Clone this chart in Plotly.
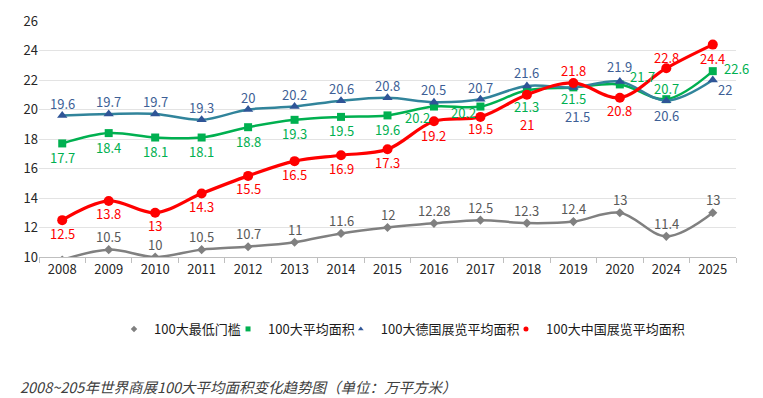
import plotly.graph_objects as go

years = ["2008", "2009", "2010", "2011", "2012", "2013", "2014", "2015",
         "2016", "2017", "2018", "2019", "2020", "2024", "2025"]

min_threshold = [9.8, 10.5, 10, 10.5, 10.7, 11, 11.6, 12, 12.28, 12.5, 12.3, 12.4, 13, 11.4, 13]
avg_area = [17.7, 18.4, 18.1, 18.1, 18.8, 19.3, 19.5, 19.6, 20.2, 20.2, 21.3, 21.5, 21.7, 20.7, 22.6]
germany_avg = [19.6, 19.7, 19.7, 19.3, 20, 20.2, 20.6, 20.8, 20.5, 20.7, 21.6, 21.5, 21.9, 20.6, 22]
china_avg = [12.5, 13.8, 13, 14.3, 15.5, 16.5, 16.9, 17.3, 19.2, 19.5, 21, 21.8, 20.8, 22.8, 24.4]

names = ["100大最低门槛", "100大平均面积", "100大德国展览平均面积", "100大中国展览平均面积"]
caption = "2008~205年世界商展100大平均面积变化趋势图（单位：万平方米）"

FONT = "Noto Sans CJK SC, Microsoft YaHei, sans-serif"

# styles: (values, line color, marker color, label color, symbol, marker size, line width,
#          default label shift (dx, dy), per-point overrides {index: (dx, dy)}, hidden labels)
series = [
    (min_threshold, "#808080", "#808080", "#595959", "diamond", 7, 2.5,
     (0, 13), {}, {0}),
    (avg_area, "#00b050", "#00b050", "#00b050", "square", 8, 2.5,
     (0, -14), {8: (-16, -11), 9: (-17, -6), 10: (0, -16), 11: (0, -11),
                12: (23, 8), 13: (0, 11), 14: (24, 3)}, set()),
    (germany_avg, "#31849b", "#2f5597", "#3d5f96", "triangle-up", 9, 2.5,
     (0, 12), {8: (0, 13), 10: (0, 13), 11: (4, -29), 12: (0, 15),
               13: (0, -15), 14: (12, -9)}, set()),
    (china_avg, "#ff0000", "#ff0000", "#ff0000", "circle", 10, 3.2,
     (0, -13), {8: (0, -14), 9: (0, -12), 10: (0, -30), 11: (0, 12),
                13: (0, 11), 14: (0, -14)}, set()),
]

fig = go.Figure()
annotations = []

for vals, lc, mc, tc, sym, ms, lw, dflt, over, hidden in series:
    fig.add_trace(go.Scatter(
        x=years, y=vals, mode="lines+markers",
        line=dict(color=lc, width=lw, shape="spline", smoothing=1.0),
        marker=dict(symbol=sym, size=ms, color=mc),
        showlegend=False, cliponaxis=True,
    ))
    for i, v in enumerate(vals):
        if i in hidden:
            continue
        dx, dy = over.get(i, dflt)
        annotations.append(dict(
            x=i, y=v, xref="x", yref="y", text="%g" % v, showarrow=False,
            xanchor="center", yanchor="middle", xshift=dx, yshift=dy,
            font=dict(color=tc, size=13, family=FONT),
        ))

# legend-only entries (marker only), each in its own legend for exact spacing
legend_x = [0.1076, 0.2712, 0.4330, 0.6700]
legend_names = ["legend", "legend2", "legend3", "legend4"]
for name, mc, sym, lg in zip(names, ["#808080", "#00b050", "#2f5597", "#ff0000"],
                             ["diamond", "square", "triangle-up", "circle"], legend_names):
    fig.add_trace(go.Scatter(
        x=[years[0]], y=[None], mode="markers", name=name, legend=lg,
        marker=dict(symbol=sym, size=5, color=mc),
    ))

annotations.append(dict(
    text=caption, xref="paper", yref="paper", x=-0.030, y=-0.547,
    xanchor="left", yanchor="middle", showarrow=False,
    font=dict(size=14.5, color="#404040", family=FONT, style="italic"),
))

legend_common = dict(orientation="h", y=-0.305, yanchor="middle", xanchor="left",
                     font=dict(size=13, color="#1a1a1a", family=FONT),
                     itemwidth=30, bgcolor="rgba(0,0,0,0)", borderwidth=0)

fig.update_layout(
    width=755, height=390,
    margin=dict(l=31, r=27, t=13, b=141, autoexpand=False),
    paper_bgcolor="white", plot_bgcolor="white",
    font=dict(family=FONT, size=13, color="#262626"),
    legend=dict(x=legend_x[0], **legend_common),
    legend2=dict(x=legend_x[1], **legend_common),
    legend3=dict(x=legend_x[2], **legend_common),
    legend4=dict(x=legend_x[3], **legend_common),
    xaxis=dict(type="category", categoryorder="array", categoryarray=years,
               range=[-0.5, len(years) - 0.5], autorange=False, automargin=False,
               showgrid=False, showline=True, linecolor="#bfbfbf",
               linewidth=1, ticks="outside", tickson="boundaries", ticklen=5,
               tickcolor="#bfbfbf", tickangle=0, tickfont=dict(size=13, color="#262626")),
    yaxis=dict(range=[10, 26], dtick=2, showgrid=True, gridcolor="#e3e3e3",
               gridwidth=1, zeroline=False, showline=False, automargin=False,
               tickfont=dict(size=13, color="#262626")),
    annotations=annotations,
)

fig.write_html("out.html")
